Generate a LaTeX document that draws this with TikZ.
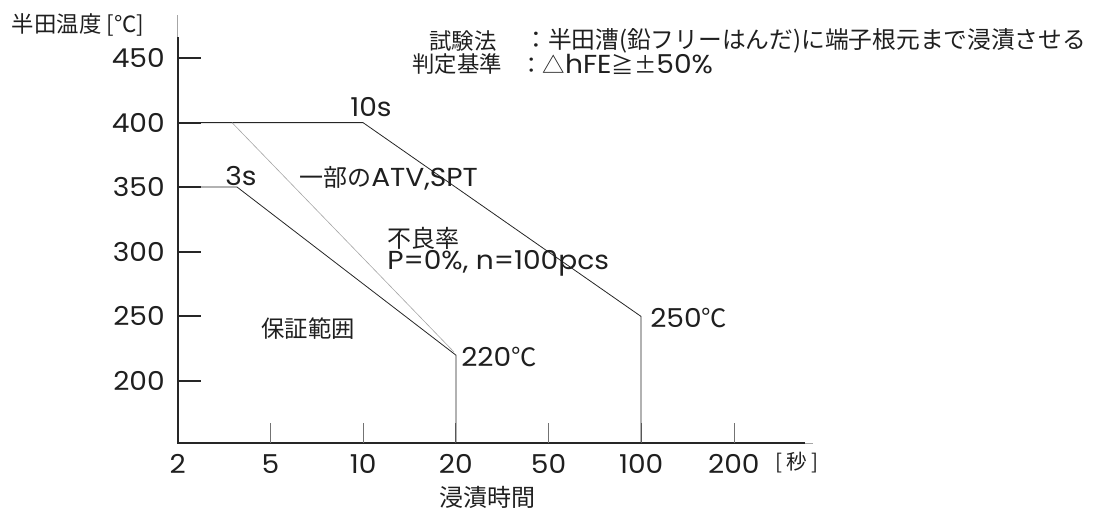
\documentclass[tikz,border=0pt]{standalone}
\usepackage{fontspec}
\setmainfont{Poppins}[FakeStretch=1.08]
\newfontfamily\jp{Noto Sans CJK JP}
\usetikzlibrary{positioning}

% Japanese text in its own font and size
\newcommand\jtxt[2][17]{{\jp\fontsize{#1}{#1}\selectfont #2}}

\begin{document}
\begin{tikzpicture}[
    x=0.75pt, y=-0.75pt,
    axis/.style={line width=1.6pt, black!85},
    curve/.style={line width=0.6pt, black!85},
    guide/.style={line width=0.45pt, black!35},
    tick/.style={line width=0.6pt, black!55},
    lbl/.style={inner sep=0pt, text=black!88, font=\fontsize{19.5}{22}\selectfont}
]
    \useasboundingbox (0,0) rectangle (1096,508);

    % axes
    \coordinate (o) at (177.7,443);
    \coordinate (ytop) at (177.7,37);
    \coordinate (yfade) at (177.7,15);
    \coordinate (xend) at (805,443);
    \coordinate (xfade) at (813,443);
    \draw[guide] (yfade) -- (ytop);
    \draw[guide] (xend) -- (xfade);
    \draw[axis] (ytop) -- (o) -- (xend);

    % temperature ticks
    \foreach \t in {200,250,300,350,400,450}{
        \pgfmathsetmacro\yy{381-(\t-200)*1.292}
        \draw[axis] (177.7,\yy) -- (201,\yy);
        \node[lbl, anchor=east] (y\t) at (165,\yy) {\t};
    }

    % time ticks
    \foreach \v [count=\i from 0] in {2,5,10,20,50,100,200}{
        \pgfmathsetmacro\xx{177.7+92.7*\i}
        \ifnum\i>0 \draw[tick] (\xx,423) -- (\xx,443); \fi
        \node[lbl] (x\v) at (\xx,464) {\v};
    }

    % curves
    \coordinate (a400) at (177.7,122.6);
    \coordinate (t10) at (363,122.6);
    \coordinate (e250) at (641,316.4);
    \coordinate (b100) at (641,443);
    \coordinate (a350) at (177.7,187);
    \coordinate (t3) at (237,187);
    \coordinate (e220) at (456,355.2);
    \coordinate (b20) at (456,443);
    \coordinate (g400) at (232,122.6);
    \coordinate (g220) at (454,352);
    \draw[curve] (a400) -- (t10) -- (e250) -- (b100);
    \draw[curve] (a350) -- (t3) -- (e220) -- (b20);
    \draw[guide] (g400) -- (g220);

    % labels
    \node[lbl] (l10s) at (371,107) {10s};
    \node[lbl] (l3s) at (241,176) {3s};
    \node[lbl, anchor=west] (lpart) at (299,178) {\jtxt[18]{一部の}ATV,SPT};
    \node[lbl, anchor=west] (lrate) at (387,238) {\jtxt[18]{不良率}};
    \node[lbl, anchor=west] (lpcs) at (387,263) {P=0\%, n=100pcs};
    \node[lbl] (lsafe) at (308,329) {\jtxt[17.5]{保証範囲}};
    \node[lbl, anchor=west] (l220) at (461,357) {220\jtxt[19]{℃}};
    \node[lbl, anchor=west] (l250) at (650,318) {250\jtxt[19]{℃}};
    \node[lbl, anchor=west] (ytitle) at (11.7,25) {\jtxt[16.8]{半田温度 [℃]}};
    \node[lbl] (xtitle) at (487,497) {\jtxt[18]{浸漬時間}};
    \node[lbl] (xunit) at (797,463) {\jtxt[15.5]{[ 秒 ]}};

    % test conditions
    \node[lbl, anchor=west] (meth) at (429,41) {\jtxt[16.8]{試験法}};
    \node[lbl, anchor=west] (methv) at (524,41) {\jtxt[17.8]{：半田漕(鉛フリーはんだ)に端子根元まで浸漬させる}};
    \node[lbl, anchor=west] (crit) at (412,64) {\jtxt[16.8]{判定基準}};
    \node[lbl, anchor=west] (critv) at (520,64) {\jtxt[16.8]{：△}hFE\jtxt[16.8]{≧±}50\%};
\end{tikzpicture}
\end{document}
